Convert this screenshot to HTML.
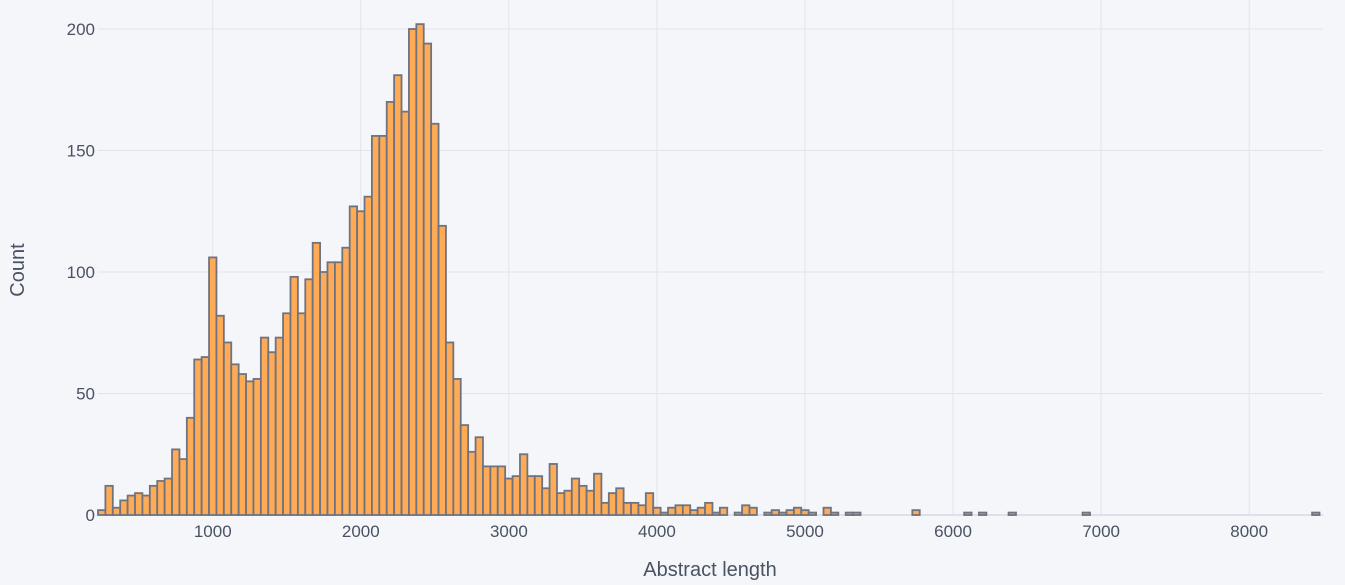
<!DOCTYPE html>
<html><head><meta charset="utf-8">
<style>
html,body{margin:0;padding:0;background:#f4f6fa;}
svg{display:block;font-family:"Liberation Sans","DejaVu Sans",sans-serif;}
</style></head>
<body>
<svg id="chart" width="1345" height="585">
  <rect x="0" y="0" width="1345" height="585" fill="#f4f6fa"/>
  <g id="grid"></g>
  <g id="bars"></g>
  <g id="xticks"></g>
  <g id="yticks"></g>
  <text x="710" y="576" text-anchor="middle" font-size="20" fill="#4a5263">Abstract length</text>
  <text transform="translate(24,270) rotate(-90)" text-anchor="middle" font-size="20" fill="#4a5263">Count</text>
</svg>
<script>
const binStart = 225;
const binWidth = 50;
const counts = [2,12,3,6,8,9,8,12,14,15,27,23,40,64,65,106,82,71,62,58,55,56,73,67,73,83,98,83,97,112,100,104,104,110,127,125,131,156,156,170,181,166,200,202,194,161,119,71,56,37,26,32,20,20,20,15,16,25,16,16,11,21,9,10,15,12,10,17,5,9,11,5,5,4,9,3,1,3,4,4,2,3,5,1,3,0,1,4,3,0,1,2,1,2,3,2,1,0,3,1,0,1,1,0,0,0,0,0,0,0,2,0,0,0,0,0,0,1,0,1,0,0,0,1,0,0,0,0,0,0,0,0,0,1,0,0,0,0,0,0,0,0,0,0,0,0,0,0,0,0,0,0,0,0,0,0,0,0,0,0,0,0,0,0,1];
const xTicks = [1000,2000,3000,4000,5000,6000,7000,8000];
const yTicks = [0,50,100,150,200];

const NS = "http://www.w3.org/2000/svg";
const L = 98, R = 1319.5, T = 29, B = 515;
const xMin = 225, xMax = binStart + binWidth * counts.length;
function xs(v){ return L + (v - xMin) / (xMax - xMin) * (R - L); }
function ys(v){ return B - v / 200 * (B - T); }
function mk(tag, attrs, parent){ const e = document.createElementNS(NS, tag); for (const k in attrs) e.setAttribute(k, attrs[k]); parent.appendChild(e); return e; }

const grid = document.getElementById('grid');
const xt = document.getElementById('xticks');
const yt = document.getElementById('yticks');
xTicks.forEach(v => {
  const x = xs(v);
  const ln = mk('line', {x1:x, x2:x, y1:0, y2:B, stroke:'#e1e4ec', 'stroke-width':1}, grid);
  
  
  const t = mk('text', {x:x, y:537, 'text-anchor':'middle', 'font-size':17, fill:'#4a5263'}, xt);
  t.textContent = v;
  
  
});
yTicks.forEach(v => {
  const y = ys(v);
  const ln = mk('line', {x1:L, x2:1323, y1:y, y2:y, stroke: v===0 ? '#dde1e9' : '#e1e4ec', 'stroke-width': v===0 ? 2 : 1}, grid);
  
  
  const t = mk('text', {x:95, y:y+6, 'text-anchor':'end', 'font-size':17, fill:'#4a5263'}, yt);
  t.textContent = v;
  
  
});
const bars = document.getElementById('bars');
counts.forEach((c, i) => {
  if (c <= 0) return;
  const x0 = xs(binStart + i * binWidth), x1 = xs(binStart + (i + 1) * binWidth);
  const y = ys(c);
  const r = mk('rect', {x:x0, y:y, width:x1-x0, height:B-y, fill:'#ffab55', stroke:'#6f7380', 'stroke-width':1.8}, bars);
  
  
});
</script>
</body></html>
